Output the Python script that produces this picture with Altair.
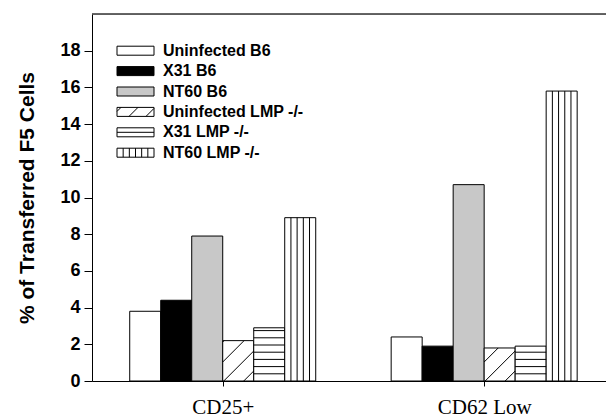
import json
import altair as alt
import pandas as pd

# ---------------- data ----------------
groups = ["CD25+", "CD62 Low"]
series = ["Uninfected B6", "X31 B6", "NT60 B6",
          "Uninfected LMP -/-", "X31 LMP -/-", "NT60 LMP -/-"]
values_cd25 = [3.8, 4.4, 7.9, 2.2, 2.9, 8.9]
values_cd62 = [2.4, 1.9, 10.7, 1.8, 1.9, 15.8]
y_ticks = [0, 2, 4, 6, 8, 10, 12, 14, 16, 18]

# ---------------- styles ----------------
fills = ["white", "black", "#c8c8c8", "white", "white", "white"]
patterns = [None, None, None, "diag", "horiz", "vert"]

W, H = 514, 367
X_MIN, X_MAX = 0.5, 2.466
Y_MIN, Y_MAX = 0, 20
PX_X = W / (X_MAX - X_MIN)
PX_Y = H / (Y_MAX - Y_MIN)
BW = 31 / PX_X


def pattern_lines(kind, x0, x1, y0, y1, horiz_px, vert_n, diag_px, diag_off):
    w = (x1 - x0) * PX_X
    h = (y1 - y0) * PX_Y
    segs = []
    if kind == "horiz":
        v = horiz_px
        while v < h - 1.0:
            segs.append((0, v, w, v))
            v += horiz_px
    elif kind == "vert":
        for j in range(1, vert_n):
            u = j * w / vert_n
            segs.append((u, 0, u, h))
    elif kind == "diag":
        c = -w + diag_off
        while c < h:
            u0 = max(0.0, -c)
            u1 = min(w, h - c)
            if u1 - u0 > 1.0:
                segs.append((u0, u0 + c, u1, u1 + c))
            c += diag_px
    return [dict(xa=x0 + a / PX_X, ya=y0 + b / PX_Y,
                 xb=x0 + c2 / PX_X, yb=y0 + d / PX_Y) for a, b, c2, d in segs]


bar_rows, line_rows = [], []
for gi, (g, vals) in enumerate(zip(groups, [values_cd25, values_cd62])):
    for si, (s, v) in enumerate(zip(series, vals)):
        c = gi + 1 + (si - 2.5) * BW
        x0, x1 = c - BW / 2, c + BW / 2
        bar_rows.append(dict(group=g, series=s, value=v, base=0,
                             x0=x0, x1=x1, fill=fills[si]))
        if patterns[si]:
            line_rows += pattern_lines(patterns[si], x0, x1, 0, v, 7.2, 5, 20, 10)

bars_df = pd.DataFrame(bar_rows)
lines_df = pd.DataFrame(line_rows)

# legend (drawn with the same scales)
leg_rows, leg_lines = [], []
for r, s in enumerate(series):
    yc = Y_MAX - (36.7 + 20.4 * r) / PX_Y
    x0 = X_MIN + 25 / PX_X
    x1 = X_MIN + 62 / PX_X
    y0 = yc - 4.5 / PX_Y
    y1 = yc + 4.5 / PX_Y
    leg_rows.append(dict(series=s, x0=x0, x1=x1, y0=y0, y1=y1, yc=yc,
                         tx=X_MIN + 71 / PX_X, fill=fills[r]))
    if patterns[r]:
        leg_lines += pattern_lines(patterns[r], x0, x1, y0, y1, 4.5, 6, 17, 8)
leg_df = pd.DataFrame(leg_rows)
leg_lines_df = pd.DataFrame(leg_lines)

top_df = pd.DataFrame([dict(x0=X_MIN, x1=X_MAX, y=Y_MAX)])

# ---------------- scales / axes ----------------
xs = alt.Scale(domain=[X_MIN, X_MAX], nice=False, zero=False)
ys = alt.Scale(domain=[Y_MIN, Y_MAX], nice=False)
x_axis = alt.Axis(values=[1, 2], labelExpr=f"{json.dumps(groups)}[round(datum.value) - 1]",
                  title=None, grid=False, tickSize=5, labelPadding=10,
                  labelFont="Liberation Serif", labelFontSize=21, labelFontWeight="normal",
                  labelColor="black", domainColor="black", tickColor="black")
y_axis = alt.Axis(values=y_ticks, title="% of Transferred F5 Cells", grid=False,
                  tickSize=8, labelPadding=4, labelFont="Liberation Sans",
                  labelFontSize=18, labelFontWeight="bold", labelColor="black",
                  titleFont="Liberation Sans", titleFontSize=21, titleFontWeight="bold",
                  titleColor="black", titlePadding=22,
                  domainColor="black", tickColor="black")


def X(f):
    return alt.X(f, type="quantitative", scale=xs, axis=x_axis)


def Y(f):
    return alt.Y(f, type="quantitative", scale=ys, axis=y_axis)


bars = alt.Chart(bars_df).mark_rect(stroke="black", strokeWidth=1).encode(
    x=X("x0"), x2="x1", y=Y("base"), y2="value",
    fill=alt.Fill("fill:N", scale=None))

hatch = alt.Chart(lines_df).mark_rule(color="black", strokeWidth=1).encode(
    x=X("xa"), y=Y("ya"), x2="xb", y2="yb")

leg_box = alt.Chart(leg_df).mark_rect(stroke="black", strokeWidth=1).encode(
    x=X("x0"), x2="x1", y=Y("y0"), y2="y1",
    fill=alt.Fill("fill:N", scale=None))

leg_hatch = alt.Chart(leg_lines_df).mark_rule(color="black", strokeWidth=1).encode(
    x=X("xa"), y=Y("ya"), x2="xb", y2="yb")

leg_text = alt.Chart(leg_df).mark_text(
    align="left", baseline="middle", font="Liberation Sans", fontSize=16,
    fontWeight="bold", color="black").encode(
    x=X("tx"), y=Y("yc"), text="series:N")

top_line = alt.Chart(top_df).mark_rule(color="#333333", strokeWidth=1.5).encode(
    x=X("x0"), x2="x1", y=Y("y"))

chart = alt.layer(bars, hatch, leg_box, leg_hatch, leg_text, top_line).properties(
    width=W, height=H,
    autosize=alt.AutoSizeParams(type="none"),
    padding={"left": 84, "top": 6, "right": 0, "bottom": 36},
).configure_view(stroke=None).configure(background="white")

chart.save("out.html", embed_options={"renderer": "svg", "actions": False})
